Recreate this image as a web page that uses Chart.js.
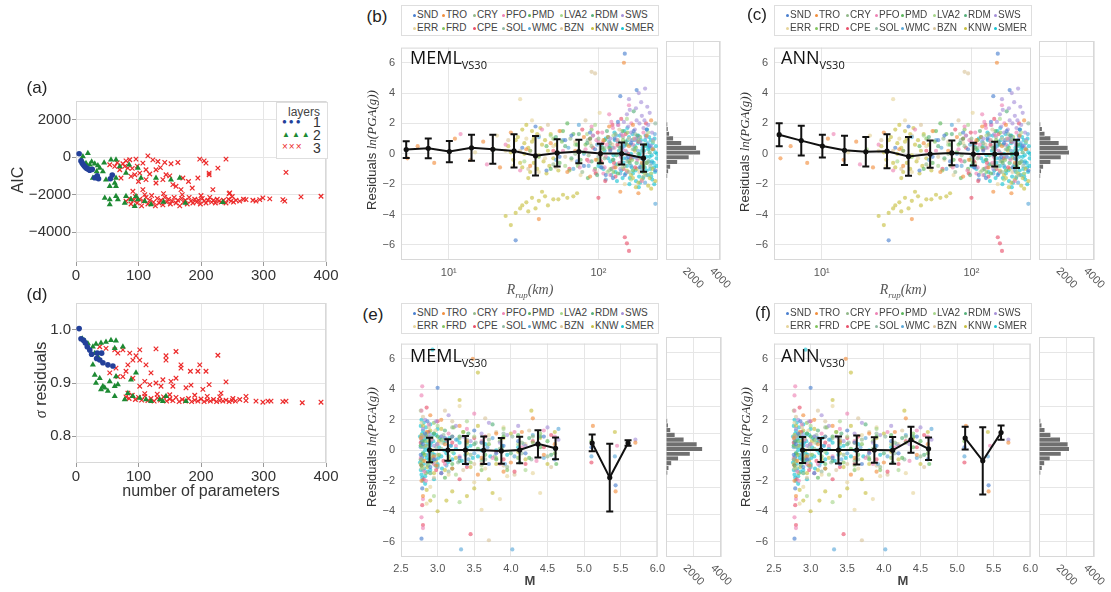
<!DOCTYPE html>
<html>
<head>
<meta charset="utf-8">
<script src="https://cdn.jsdelivr.net/npm/chart.js@4.4.0/dist/chart.umd.min.js"></script>
<style>
body { margin:0; background:#fff; width:1111px; height:592px; position:relative; overflow:hidden; font-family:"Liberation Sans",Arial,sans-serif; color:#333; }
canvas { position:absolute; }
.t { position:absolute; white-space:nowrap; transform:translate(-50%,-50%); }
.rot { transform:translate(-50%,-50%) rotate(-90deg); }
.plab { font-size:17px; color:#222; }
.math { font-family:"Liberation Serif","DejaVu Serif",serif; font-style:italic; }
.model { position:absolute; font-family:"Open Sans",sans-serif; font-size:18px; color:#111; white-space:nowrap; }
.model sub { font-size:11px; }
.leg { position:absolute; border:1px solid #dedede; background:#fff; width:256px; height:29px; font-size:10px; color:#444; }
.leg span { position:absolute; white-space:nowrap; }
.dot { display:inline-block; width:3px; height:3px; border-radius:50%; margin-right:1px; vertical-align:middle; }
.lay { position:absolute; left:276px; top:102px; width:50px; height:55px; border:1px solid #dedede; background:#fff; }
.lay div { position:absolute; white-space:nowrap; }
</style>
</head>
<body>
<canvas id="cA" width="340" height="195" style="left:0;top:90px"></canvas>
<canvas id="cD" width="340" height="195" style="left:0;top:290px"></canvas>
<canvas id="cB" width="330" height="250" style="left:340px;top:35px"></canvas>
<canvas id="hB" width="76" height="270" style="left:660px;top:35px"></canvas>
<canvas id="cC" width="330" height="250" style="left:713px;top:35px"></canvas>
<canvas id="hC" width="78" height="270" style="left:1033px;top:35px"></canvas>
<canvas id="cE" width="330" height="245" style="left:340px;top:331px"></canvas>
<canvas id="hE" width="76" height="261" style="left:660px;top:331px"></canvas>
<canvas id="cF" width="330" height="245" style="left:713px;top:331px"></canvas>
<canvas id="hF" width="78" height="261" style="left:1033px;top:331px"></canvas>

<div class="t plab" style="left:37px;top:88px">(a)</div>
<div class="t plab" style="left:37px;top:295px">(d)</div>
<div class="t plab" style="left:377px;top:17px">(b)</div>
<div class="t plab" style="left:757px;top:15px">(c)</div>
<div class="t plab" style="left:373px;top:315px">(e)</div>
<div class="t plab" style="left:763px;top:313px">(f)</div>

<div class="t rot" style="left:18px;top:180px;font-size:16px">AIC</div>
<div class="t rot" style="left:41px;top:380px;font-size:16px"><span class="math">σ</span> residuals</div>
<div class="t" style="left:201px;top:491px;font-size:16px">number of parameters</div>

<div class="t rot" style="left:372px;top:150px;font-size:13px">Residuals <span class="math">ln(PGA(g))</span></div>
<div class="t rot" style="left:745px;top:152px;font-size:13px">Residuals <span class="math">ln(PGA(g))</span></div>
<div class="t rot" style="left:372px;top:447px;font-size:13px">Residuals <span class="math">ln(PGA(g))</span></div>
<div class="t rot" style="left:746px;top:447px;font-size:13px">Residuals <span class="math">ln(PGA(g))</span></div>

<div class="t math" style="left:530px;top:291px;font-size:14px;color:#555">R<sub style="font-size:9px">rup</sub>(km)</div>
<div class="t math" style="left:903px;top:291px;font-size:14px;color:#555">R<sub style="font-size:9px">rup</sub>(km)</div>
<div class="t" style="left:530px;top:580px;font-size:13px;font-weight:bold;color:#444">M</div>
<div class="t" style="left:903px;top:580px;font-size:13px;font-weight:bold;color:#444">M</div>

<div class="model" style="left:410px;top:45px">MEML<sub>VS30</sub></div>
<div class="model" style="left:781px;top:45px">ANN<sub>VS30</sub></div>
<div class="model" style="left:410px;top:343px">MEML<sub>VS30</sub></div>
<div class="model" style="left:781px;top:343px">ANN<sub>VS30</sub></div>

<div class="lay">
  <div style="left:11px;top:2px;font-size:12px;color:#444">layers</div>
  <div style="left:5px;top:14px;font-size:8px;color:#23409a;letter-spacing:2px">●●●</div>
  <div style="left:36px;top:11px;font-size:14px">1</div>
  <div style="left:5px;top:27px;font-size:8px;color:#1d8a33;letter-spacing:2px">▲▲▲</div>
  <div style="left:36px;top:24px;font-size:14px">2</div>
  <div style="left:5px;top:38px;font-size:10px;color:#ec2a2a;letter-spacing:1px">×××</div>
  <div style="left:36px;top:37px;font-size:14px">3</div>
</div>

<script>
// ---- panel (a)/(d): model selection ----
const paramTicks = [0, 100, 200, 300, 400];
const aicTicks = [-4000, -2000, 0, 2000];
const sigmaTicks = [0.8, 0.9, 1.0];

const aicLayer1 = [[5,180],[8,-200],[10,-320],[12,-420],[14,-500],[16,-560],[18,-620],[20,-640],[22,-700],[26,-650],[30,-1100],[34,-1000],[36,-1150],[55,-1150],[58,-950]];
const aicLayer2 = [[11,35],[19,212],[9,-140],[16,-320],[22,-407],[30,-354],[38,-584],[43,-760],[27,-1115],[33,-760],[48,-1200],[54,-1557],[62,-1380],[64,-1115],[56,-140],[64,-140],[80,-850],[99,-584],[104,-1115],[128,-1115],[152,-1200],[166,-1115],[46,-2177],[54,-2265],[54,-2530],[64,-2088],[67,-2265],[78,-2442],[80,-2088],[88,-2265],[96,-2088],[99,-2265],[120,-2530],[235,-2407],[94,-2620],[64,-1557],[25,-250],[35,-450],[45,-300],[70,-500],[85,-400],[110,-2350],[140,-2400],[175,-2450]];
const aicLayer3 = [[54,-407],[62,-495],[66,-300],[70,-672],[72,-1115],[75,-350],[78,-495],[80,-200],[83,-584],[86,-140],[88,-1027],[90,-600],[91,-1823],[94,-940],[96,-106],[98,-480],[100,-1300],[102,-850],[107,-320],[107,-1734],[112,-672],[112,-1200],[115,70],[118,-900],[123,-142],[128,-672],[128,-1380],[131,-230],[135,-560],[139,-1200],[142,-283],[144,-940],[150,-1000],[152,-354],[155,-1469],[160,-1557],[163,-283],[168,-1734],[171,-1115],[180,-1300],[186,-1650],[195,-1115],[198,-106],[205,-200],[208,-320],[213,-940],[213,-850],[219,-1734],[227,-584],[240,-106],[246,-1911],[336,-814],
  [80,-2350],[85,-2200],[88,-2500],[92,-2300],[95,-2100],[98,-2450],[102,-2250],[105,-2600],[108,-2350],[112,-2150],[115,-2500],[118,-2300],[121,-2050],[124,-2400],[127,-2600],[130,-2200],[133,-2450],[136,-2300],[139,-2550],[142,-2150],[145,-2400],[148,-2250],[151,-2500],[154,-2350],[157,-2150],[160,-2450],[163,-2300],[166,-2600],[169,-2200],[172,-2400],[175,-2300],[178,-2500],[181,-2150],[184,-2350],[187,-2450],[190,-2250],[193,-2400],[196,-2300],[199,-2500],[202,-2200],[205,-2350],[208,-2450],[211,-2300],[214,-2150],[217,-2400],[220,-2300],[223,-2450],[226,-2250],[229,-2350],[232,-2400],[236,-2300],[240,-2450],[244,-2250],[248,-2350],[252,-2400],[256,-2300],[262,-2350],[268,-2250],[272,-2265],[283,-2300],[288,-2350],[294,-2265],[299,-2177],[310,-2230],[331,-2265],[334,-2350],[360,-2124],[392,-2088],[110,-2000],[140,-1950],[170,-2000],[200,-2050],[245,-1950],[250,-2100]];

const sigLayer1 = [[5,1.002],[8,0.983],[12,0.980],[15,0.975],[18,0.968],[22,0.962],[25,0.954],[33,0.946],[34,0.956],[38,0.943],[41,0.956],[43,0.938],[51,0.934],[59,0.932]];
const sigLayer2 = [[10,0.983],[14,0.979],[19,0.974],[27,0.968],[32,0.973],[40,0.975],[48,0.977],[56,0.980],[64,0.979],[75,0.968],[62,0.965],[30,0.956],[35,0.949],[27,0.934],[30,0.915],[32,0.900],[40,0.888],[46,0.891],[51,0.885],[62,0.894],[54,0.903],[67,0.897],[64,0.912],[88,0.906],[96,0.919],[83,0.881],[91,0.875],[102,0.872],[112,0.869],[120,0.866],[134,0.869],[144,0.875],[176,0.866],[139,0.866],[43,0.894],[38,0.909],[62,0.875],[78,0.869]];
const sigLayer3 = [[38,0.968],[48,0.965],[62,0.962],[67,0.956],[75,0.962],[86,0.956],[96,0.951],[102,0.962],[128,0.964],[144,0.951],[144,0.943],[160,0.959],[168,0.934],[168,0.928],[183,0.922],[195,0.922],[198,0.934],[208,0.922],[227,0.952],[240,0.902],[184,0.896],[213,0.897],[160,0.909],[152,0.903],[139,0.906],[128,0.900],[118,0.897],[110,0.903],[120,0.919],[112,0.934],[102,0.943],[91,0.943],[83,0.934],[75,0.912],[64,0.928],[54,0.919],[67,0.912],[80,0.922],[91,0.909],[102,0.894],[136,0.894],[155,0.894],[176,0.891],[203,0.888],[232,0.881],[83,0.881],
  [80,0.874],[85,0.871],[90,0.877],[95,0.869],[100,0.873],[105,0.868],[110,0.875],[115,0.867],[120,0.871],[125,0.866],[130,0.872],[135,0.868],[140,0.874],[145,0.866],[150,0.870],[155,0.867],[160,0.873],[165,0.865],[170,0.869],[175,0.866],[180,0.871],[185,0.865],[190,0.868],[195,0.866],[200,0.870],[205,0.865],[210,0.868],[215,0.866],[220,0.869],[225,0.865],[230,0.867],[235,0.866],[240,0.868],[245,0.865],[250,0.867],[255,0.866],[262,0.869],[272,0.867],[288,0.866],[299,0.864],[307,0.866],[312,0.866],[331,0.865],[336,0.866],[362,0.863],[392,0.864],[251,0.871],[272,0.875],[110,0.880],[130,0.879],[150,0.878],[190,0.877],[210,0.875],[230,0.874]];

// ---- panels (b)(c)(e)(f): residuals ----
const stations = ['SND','TRO','CRY','PFO','PMD','LVA2','RDM','SWS','ERR','FRD','CPE','SOL','WMC','BZN','KNW','SMER'];
const stationColors = ['#4a7fcf','#f28e3c','#93b98a','#ee82b4','#5cb85c','#a6d68a','#55b07a','#a58fd8','#e6d49a','#82c45e','#e8506a','#8fb8a0','#5aa8d8','#d8c49a','#c8c040','#17c3d2'];
const residTicks = [-6, -4, -2, 0, 2, 4, 6];
const rupTicks = [10, 100];
const rupTickText = ['10¹', '10²'];
const magTicks = [2.5, 3.0, 3.5, 4.0, 4.5, 5.0, 5.5, 6.0];
const histTicks = [0, 2000, 4000];
const histLabelVals = [2000, 4000];
const histTickText = ['2000', '4000'];

const rupBins = [5.2, 7.3, 10.1, 14.2, 19.7, 27.3, 38, 53, 74, 103, 143, 200];
const memlRupMean = [0.28, 0.36, 0.15, 0.40, 0.30, 0.19, -0.13, 0.06, 0.15, 0.02, 0.02, -0.28];
const memlRupStd = [0.55, 0.65, 0.70, 0.86, 0.95, 1.10, 1.30, 0.90, 0.78, 0.65, 0.73, 0.90];
const annRupMean = [1.26, 0.87, 0.51, 0.23, 0.13, 0.17, -0.17, -0.02, 0.06, -0.02, -0.02, 0.0];
const annRupStd = [0.76, 0.98, 0.75, 0.96, 0.97, 1.12, 1.28, 0.90, 0.81, 0.75, 0.81, 0.93];

const magBins = [2.89, 3.14, 3.38, 3.63, 3.87, 4.12, 4.37, 4.61, 4.86, 5.11, 5.35, 5.6];
const memlMagMean = [0.02, 0.02, 0.02, 0.0, -0.04, 0.02, 0.42, 0.13, null, 0.48, -1.79, 0.48];
const memlMagStd = [0.81, 0.70, 0.92, 0.90, 0.84, 0.87, 0.90, 0.71, null, 0.55, 2.22, 0.18];
const annMagMean = [0.02, 0.02, 0.02, 0.02, 0.02, 0.0, 0.69, 0.10, null, 0.80, -0.69, 1.16];
const annMagStd = [0.85, 0.78, 0.89, 0.95, 0.83, 0.88, 0.85, 0.74, null, 0.74, 2.21, 0.47];

const residBins = [-1.9, -1.55, -1.2, -0.85, -0.5, -0.15, 0.2, 0.55, 0.9, 1.25, 1.6, 1.95];
const memlRupHist = [100, 180, 330, 850, 1700, 2550, 2250, 1150, 550, 250, 150, 110];
const annRupHist = [100, 170, 320, 850, 1600, 2200, 2100, 1450, 850, 420, 230, 110];
const memlMagHist = [110, 200, 400, 900, 1750, 2650, 2250, 1300, 650, 330, 160, 100];
const annMagHist = [110, 220, 400, 800, 1600, 2200, 2100, 1550, 850, 420, 200, 110];

// residual vs rupture distance, by station
const rupSND = [[31,0.4],[45,-1.1],[60,0.9],[72,-0.5],[88,1.4],[105,-0.9],[120,0.2],[135,2.1],[150,-1.4],[165,0.7],[180,4.2],[195,-0.3],[210,1.6],[28,-5.7],[38,1.8],[140,3.8],[125,-1.6],[55,-0.2],[150,6.6],
  [66,1.2],[80,-0.8],[95,0.3],[112,-1.4],[128,1.0],[158,-0.2],[172,1.5],[188,-0.9],[220,0.5],[240,-1.1]];
const rupTRO = [[5.3,-0.3],[6.2,0.5],[8,-0.6],[11,1.0],[14,-0.4],[17,0.8],[22,-0.9],[26,1.4],[33,0.3],[40,-4.3],[48,0.7],[62,-1.2],[80,1.1],[96,-0.4],[118,1.8],[140,-2.5],[160,0.5],[185,-2.6],[210,1.2],[148,6.0],[230,0.3],
  [35,-0.8],[55,1.5],[70,0.2],[88,-1.5],[108,0.9],[130,-0.9],[170,1.9],[195,-0.6],[225,2.2]];
const rupCRY = [[35,0.2],[50,-0.7],[65,1.0],[78,-1.2],[90,0.5],[110,-0.3],[130,1.3],[150,-0.8],[170,0.3],[200,-1.5],[86,-0.1],[120,0.7],
  [70,0.0],[100,1.0],[140,0.3],[160,-1.2],[185,0.9],[215,-0.5]];
const rupPFO = [[12,1.3],[18,-0.7],[24,0.6],[30,-1.1],[42,1.6],[58,0.2],[75,-0.9],[92,1.2],[108,-1.3],[118,2.6],[128,0.4],[138,-0.6],[160,3.2],[175,1.0],[195,-1.8],[100,0.8],[112,-0.2],[125,1.7],
  [82,0.3],[86,-0.5],[90,1.8],[94,-1.1],[97,0.9],[103,-0.1],[106,1.4],[110,-0.9],[114,0.6],[120,-1.4],[122,2.1],[126,-0.9],[133,0.9],[136,1.9],[141,-0.2],[145,1.2],[152,0.2],[155,-1.2],[166,2.0],[170,0.6],[182,-0.4],[200,1.4]];
const rupPMD = [[45,0.5],[55,-0.6],[68,1.3],[80,0.1],[95,-1.0],[110,0.9],[125,-0.4],[145,1.5],[170,-1.1],[205,0.6],[62,2.0],[85,-1.6],
  [48,-1.0],[58,1.5],[72,0.6],[76,-0.4],[88,1.0],[102,-0.6],[118,0.4],[135,-1.3],[155,0.6],[185,0.0]];
const rupLVA2 = [[20,0.3],[32,-0.5],[48,1.2],[70,0.6],[95,1.9],[115,-1.2],[135,0.9],[155,2.3],[180,-0.6],[215,1.4],[165,-1.7],
  [60,-0.8],[84,1.3],[104,-0.1],[126,1.2],[145,-0.9],[172,1.0],[200,-1.2],[232,0.8]];
const rupRDM = [[52,1.1],[66,-0.3],[84,0.7],[98,-1.4],[114,1.5],[132,-0.1],[152,0.8],[172,2.8],[192,-0.9],[220,0.1],
  [60,0.5],[74,1.3],[90,-0.5],[106,0.4],[122,-1.0],[140,0.4],[162,-0.6],[182,1.2],[210,-0.6]];
const rupSWS = [[120,1.0],[135,1.9],[145,0.3],[155,2.6],[165,1.4],[172,-0.2],[180,2.2],[190,0.8],[200,1.7],[212,3.1],[225,0.5],[160,3.6],[195,2.5],[140,-1.0],
  [142,1.3],[148,2.1],[152,0.7],[158,1.8],[162,2.9],[168,0.9],[175,1.6],[178,3.0],[184,1.1],[188,2.0],[193,3.4],[198,0.6],[203,2.2],[208,1.1],[215,1.9],[220,2.7],[228,1.4],[232,0.9],[186,4.0],[205,4.3]];
const rupERR = [[15,0.1],[21,1.2],[27,-0.8],[36,2.2],[44,-0.3],[56,1.5],[76,-1.4],[102,2.7],[150,-2.0],[30,3.6],
  [24,0.2],[33,1.0],[40,-1.2],[50,0.5],[66,-0.4],[88,0.7],[120,-1.0]];
const rupFRD = [[40,-0.2],[57,0.8],[73,-0.8],[90,1.6],[108,0.3],[126,-1.2],[146,0.9],[168,-0.4],[190,1.1],[225,-1.3],
  [50,1.0],[64,-1.1],[82,0.6],[98,-0.4],[116,1.1],[136,-0.7],[156,1.4],[178,0.4],[200,-0.8]];
const rupCPE = [[50,0.2],[64,-1.0],[78,1.6],[92,0.4],[104,-0.5],[116,1.1],[130,-1.5],[142,2.3],[158,0.0],[176,-0.9],[100,-2.9],[150,-5.5],[155,-5.9],[160,-6.4],[208,2.0],
  [84,-0.4],[88,1.0],[96,-1.3],[99,1.4],[107,0.7],[111,-1.8],[120,0.3],[124,1.9],[127,-0.6],[134,0.6],[147,-1.0],[152,1.3],[165,-0.3],[185,0.8]];
const rupSOL = [[85,0.9],[100,-0.2],[118,-1.1],[136,0.5],[156,-0.5],[176,1.3],[198,0.2],[222,-0.8],[240,2.0],
  [110,0.4],[128,-0.9],[146,1.1],[166,-0.2],[188,0.8],[210,-1.4],[232,0.3]];
const rupWMC = [[40,1.1],[52,-0.4],[63,0.4],[74,1.9],[86,-0.8],[98,0.6],[112,-1.7],[132,1.2],[154,-0.3],[176,0.9],[205,-1.9],[238,1.3],[240,-3.3],
  [58,0.9],[68,-1.0],[80,0.0],[92,1.2],[104,-0.9],[118,0.8],[126,-0.4],[140,-1.3],[148,0.5],[165,-0.8],[184,0.2],[196,-1.1],[214,0.7],[226,-0.6]];
const rupBZN = [[25,0.9],[34,-1.0],[46,1.9],[60,-0.2],[82,2.2],[106,-0.6],[138,1.6],[188,-1.2],[90,5.4],[95,5.3],
  [30,0.2],[40,1.2],[52,-0.9],[70,0.8],[96,-1.2],[124,0.6],[160,1.0]];
const rupKNW = [[25,0.5],[27,-0.4],[29,1.1],[31,-0.9],[33,1.9],[35,0.2],[37,-0.6],[39,1.3],[42,0.6],[45,-1.3],[30,-3.6],[33,-3.2],[36,-2.9],[38,-3.6],[42,-2.5],[50,-3.0],[58,-2.7],[68,-2.8],[24,-4.1],[26,-4.7],[165,-1.4],[185,-1.9],[200,-0.9],[215,-2.1],[175,0.2],[32,0.0],[40,-0.1],[36,1.5],[34,-1.6],
  [26,0.1],[28,0.9],[30,-0.6],[31,1.6],[32,0.7],[34,0.4],[35,-1.2],[36,0.8],[37,1.0],[38,-0.2],[39,-1.0],[41,1.7],[43,-0.5],[44,0.9],[46,0.2],[47,-0.8],[48,1.3],[50,-0.3],[52,0.6],[54,-1.1],[28,-3.9],[31,-3.4],[34,-3.8],[40,-3.1],[44,-2.8],[46,-3.4],[54,-3.0],[62,-2.9],[72,-2.6],[155,-1.1],[160,-0.5],[170,-1.6],[180,-1.0],[190,-0.3],[195,-1.7],[205,-1.3],[210,-0.6],[220,-1.6],[230,-1.0],[240,-1.8],[178,-2.2],[225,-2.3]];
const rupSMER = [[120,-0.5],[125,0.4],[130,-1.2],[135,0.8],[140,-0.1],[145,-1.6],[150,0.6],[155,-0.8],[160,1.1],[165,0.0],[170,-1.3],[175,0.5],[180,-0.6],[185,1.2],[190,-1.9],[195,0.2],[200,-0.4],[205,0.9],[210,-1.1],[215,0.3],[220,-0.2],[225,-1.5],[230,0.7],[235,-0.9],[240,0.1],[128,1.4],[148,-0.3],[168,0.9],[188,-0.1],[208,0.5],[228,-0.5],[178,-1.8],[198,-1.2],[218,1.1],[110,0.2],[100,-0.8],[245,-0.3],
  [105,0.6],[108,-1.0],[112,1.0],[116,-0.3],[119,0.5],[122,-1.4],[126,-0.1],[129,0.9],[132,-0.7],[137,0.2],[139,1.2],[142,-1.1],[144,0.4],[147,-0.6],[149,1.5],[152,-1.3],[154,0.1],[157,0.9],[159,-0.4],[162,-1.6],[164,0.6],[167,-0.9],[169,1.3],[172,-0.2],[174,0.3],[177,-1.1],[179,1.0],[182,-0.3],[184,0.7],[187,-1.5],[189,0.0],[192,0.9],[194,-0.7],[197,0.4],[199,-1.6],[202,0.2],[204,-0.9],[207,1.2],[209,-0.2],[212,0.6],[214,-1.4],[217,-0.5],[219,0.4],[222,-1.0],[224,0.9],[227,-0.1],[229,-1.7],[232,0.3],[234,-0.6],[237,1.0],[239,-1.2],[242,0.5],[244,-0.8],[246,0.0],[133,-1.8],[161,-2.0],[186,-2.2],[211,1.6],[236,-2.0],[156,1.7]];

// residual vs magnitude, by station
const magSND = [[2.8,0.4],[2.9,-1.1],[3.0,4.1],[3.1,0.8],[3.3,-0.5],[3.5,1.3],[3.7,-0.9],[3.9,0.3],[4.2,-0.2],[4.45,0.9],[5.1,0.2],[5.43,-2.3],[2.78,-5.8],[2.86,1.9],
  [2.77,-0.3],[2.83,1.1],[2.95,-0.6],[3.05,-1.5],[3.2,0.9],[3.4,-0.9],[3.6,0.5],[3.8,-0.2],[4.1,0.6],[4.6,-0.6],[2.79,-2.5]];
const magTRO = [[2.78,-2.0],[2.85,1.2],[2.95,-0.4],[3.05,2.0],[3.2,-1.2],[3.4,0.6],[3.55,-1.6],[3.8,1.1],[4.0,-0.8],[4.3,2.1],[4.6,0.4],[5.12,1.6],[5.43,-2.7],[3.48,6.0],[5.7,0.5],
  [2.77,0.8],[2.82,-0.7],[2.9,2.3],[2.98,-1.0],[3.1,0.4],[3.3,1.6],[3.6,-0.5],[3.9,-1.4],[4.15,1.2],[4.45,-0.3],[2.8,-3.0]];
const magCRY = [[2.8,0.9],[2.9,-0.6],[3.05,0.1],[3.2,1.5],[3.45,-0.3],[3.7,0.7],[3.95,-1.1],[4.15,0.5],[4.5,-0.4],
  [2.78,-0.6],[2.86,0.3],[3.0,-1.0],[3.3,0.8],[3.6,-0.7],[3.85,0.1],[4.3,0.9]];
const magPFO = [[2.78,3.6],[2.82,-1.4],[2.92,0.7],[3.1,-0.9],[3.25,0.3],[3.5,2.4],[3.75,-0.5],[4.05,1.2],[4.35,-0.7],[4.6,0.9],[5.45,0.3],[2.78,-4.4],[2.8,-5.1],[2.79,4.2],
  [2.77,-0.5],[2.8,0.9],[2.84,-2.0],[2.88,1.7],[2.95,-0.9],[3.0,0.4],[3.05,-1.5],[3.15,1.1],[3.3,-0.4],[3.4,1.4],[3.6,0.6],[3.85,-0.9],[4.15,0.2],[4.45,1.3],[2.78,2.6],[2.8,-3.2]];
const magPMD = [[2.8,-0.2],[2.95,1.1],[3.1,-1.8],[3.3,0.9],[3.55,0.1],[3.8,-0.6],[4.1,1.0],[4.4,0.2],[4.62,-0.9],
  [2.78,-1.0],[2.83,0.6],[2.9,-0.6],[3.0,0.9],[3.2,-0.9],[3.4,0.5],[3.65,-0.3],[3.9,0.9],[4.25,-0.5],[4.5,0.6]];
const magLVA2 = [[2.77,2.6],[2.88,-0.9],[3.0,1.6],[3.2,-0.1],[3.4,1.9],[3.6,-1.0],[3.9,1.4],[4.2,-1.3],[3.3,-3.4],[2.95,-3.0],
  [2.79,-1.2],[2.85,1.1],[2.92,-0.4],[3.08,0.7],[3.25,-1.6],[3.5,0.9],[3.8,-0.5],[4.1,0.4]];
const magRDM = [[2.79,0.6],[2.9,-1.5],[3.1,1.3],[3.3,-0.7],[3.5,0.4],[3.75,1.7],[4.0,-0.2],[4.25,0.8],[4.55,-0.3],
  [2.77,-0.6],[2.84,1.0],[2.93,-0.8],[3.05,0.7],[3.2,-1.2],[3.42,1.1],[3.62,-0.6],[3.88,0.2],[4.12,-0.8],[4.4,0.9]];
const magSWS = [[2.8,1.4],[2.95,0.3],[3.15,2.3],[3.35,0.9],[3.6,1.1],[3.85,0.5],[4.1,1.6],[4.35,0.4],[4.65,0.7],[5.7,0.7],
  [2.78,0.7],[2.83,2.0],[2.88,1.0],[2.98,1.9],[3.05,0.9],[3.25,1.6],[3.45,0.6],[3.7,1.8],[3.95,1.0],[4.2,0.3],[4.5,1.5]];
const magERR = [[2.78,1.8],[2.9,-2.4],[3.05,0.5],[3.3,2.9],[3.5,-2.1],[3.7,1.0],[3.95,-1.7],[4.2,0.4],[3.6,-3.9],[3.85,-3.2],[4.4,-2.8],
  [2.8,-1.1],[2.86,0.9],[2.97,1.3],[3.15,-1.6],[3.4,0.4],[3.65,-1.2],[3.9,1.5],[4.3,-1.5],[2.85,-3.5]];
const magFRD = [[2.8,-0.7],[2.95,1.8],[3.15,-0.4],[3.35,1.2],[3.6,-1.3],[3.85,0.6],[4.1,-0.5],[4.4,1.1],[4.6,-0.2],[5.1,0.6],
  [2.77,0.3],[2.84,-1.5],[2.92,0.8],[3.02,-0.3],[3.22,1.5],[3.45,-0.8],[3.7,0.4],[3.95,-1.3],[4.3,0.5]];
const magCPE = [[2.78,-1.0],[2.85,2.8],[2.98,-1.3],[3.12,0.7],[3.3,-1.9],[3.5,0.8],[3.8,-0.1],[4.05,-1.4],[4.3,0.6],[4.55,1.0],[5.1,-0.8],[3.45,-5.5],[2.8,-4.9],[3.6,-0.9],
  [2.77,0.5],[2.81,-1.9],[2.87,1.2],[2.93,-0.5],[3.0,1.9],[3.08,-0.7],[3.2,0.5],[3.4,-1.1],[3.65,0.9],[3.9,-0.6],[4.2,-0.9],[4.45,0.2],[2.79,-3.6]];
const magSOL = [[2.8,0.2],[2.92,-0.3],[3.08,1.0],[3.28,-0.8],[3.52,0.5],[3.78,-0.4],[4.02,0.9],[4.28,-0.6],
  [2.78,0.9],[2.86,-0.9],[2.98,0.2],[3.15,-1.4],[3.4,0.7],[3.65,-0.6],[3.9,1.1],[4.15,-0.2]];
const magWMC = [[2.79,-0.5],[2.9,0.5],[3.0,-1.1],[3.18,0.3],[3.42,-0.6],[3.68,0.2],[3.92,-0.9],[4.18,0.4],[4.45,-0.5],[4.65,1.4],[5.1,-0.4],[5.42,-0.4],[3.32,-6.5],[4.02,-6.5],
  [2.77,0.2],[2.8,-1.3],[2.84,0.9],[2.88,-0.3],[2.93,1.0],[2.97,-0.6],[3.05,0.9],[3.12,-1.0],[3.25,0.7],[3.5,-0.2],[3.75,0.8],[4.05,-0.4],[4.3,1.0],[4.6,0.1]];
const magBZN = [[2.8,2.2],[2.95,-1.8],[3.1,2.6],[3.35,-1.3],[3.65,2.1],[3.9,-1.0],[4.25,1.3],[4.55,-1.1],[3.7,-5.9],
  [2.78,-1.2],[2.88,1.5],[3.0,-0.3],[3.2,1.9],[3.5,-0.9],[3.8,1.2],[4.05,-1.6]];
const magKNW = [[2.78,1.0],[2.82,-0.3],[2.88,0.6],[2.95,-1.5],[3.05,1.4],[3.15,-0.6],[3.3,3.3],[3.4,-0.2],[3.55,1.6],[3.7,-1.9],[3.9,0.8],[4.1,-0.1],[4.28,2.6],[4.5,-0.9],[4.6,1.2],[5.42,1.2],[2.9,-3.3],[3.2,-2.7],[3.5,-2.5],[3.0,-4.0],[3.55,5.1],
  [2.77,-0.9],[2.8,1.6],[2.83,0.3],[2.86,-1.1],[2.9,1.3],[2.93,0.0],[2.98,-0.7],[3.02,0.6],[3.1,-1.3],[3.2,0.9],[3.25,-0.5],[3.35,1.2],[3.45,-1.1],[3.6,0.5],[3.8,-0.9],[4.0,1.1],[4.2,-0.6],[4.4,0.8],[2.85,-2.6],[3.12,-3.3],[3.4,-3.0],[3.75,-2.8]];
const magSMER = [[2.76,-0.8],[2.77,0.3],[2.78,-1.6],[2.79,1.1],[2.8,-0.2],[2.81,0.7],[2.82,-1.2],[2.83,0.0],[2.84,1.5],[2.85,-0.5],[2.86,0.4],[2.87,-1.0],[2.88,0.9],[2.89,-0.1],[2.9,0.3],[2.92,-0.7],[2.94,0.6],[2.96,-0.3],[2.98,1.0],[3.0,-0.9],[3.02,0.2],[3.05,-0.4],[3.08,0.5],[3.12,-0.2],[3.16,0.8],[3.2,-0.6],[3.25,0.1],[3.3,0.5],[3.38,-0.3],[3.45,0.3],[3.55,-0.4],[3.65,0.4],[3.8,0.0],[3.95,-0.3],[4.1,0.2],[2.78,2.0],[2.8,-2.0],[2.9,1.7],[2.95,-1.9],[2.93,6.6],
  [2.76,0.9],[2.77,-1.3],[2.78,0.5],[2.79,-0.4],[2.8,1.3],[2.81,-0.9],[2.82,0.2],[2.83,-1.7],[2.84,-0.3],[2.85,0.8],[2.86,-1.4],[2.87,0.1],[2.88,-0.6],[2.89,1.2],[2.9,-1.3],[2.91,0.5],[2.93,-0.2],[2.95,1.1],[2.97,-1.0],[2.99,0.4],[3.01,-0.5],[3.03,0.8],[3.06,-1.2],[3.09,0.0],[3.11,0.6],[3.14,-0.8],[3.18,0.3],[3.22,-0.2],[3.27,0.7],[3.33,-0.7],[3.4,0.2],[3.48,-0.5],[3.6,0.0],[3.72,-0.4],[3.88,0.3],[2.77,1.6],[2.79,-1.8],[2.81,1.8],[2.83,-2.2],[3.0,1.4]];

const rupCloud = [rupSND, rupTRO, rupCRY, rupPFO, rupPMD, rupLVA2, rupRDM, rupSWS, rupERR, rupFRD, rupCPE, rupSOL, rupWMC, rupBZN, rupKNW, rupSMER];
const magCloud = [magSND, magTRO, magCRY, magPFO, magPMD, magLVA2, magRDM, magSWS, magERR, magFRD, magCPE, magSOL, magWMC, magBZN, magKNW, magSMER];

const GRID = '#e6e6e6';
const toPts = arr => arr.map(p => ({ x: p[0], y: p[1] }));
const fixTicks = vals => axis => { axis.ticks = vals.map(v => ({ value: v })); };
const minus = v => (v < 0 ? '\u2212' + Math.abs(v) : String(v));

// light grey box around each plotting area
const frame = {
  id: 'frame',
  beforeDatasetsDraw(c) {
    const a = c.chartArea, g = c.ctx;
    g.save();
    g.strokeStyle = '#d8d8d8';
    g.lineWidth = 1;
    g.strokeRect(a.left + 0.5, a.top + 0.5, a.width - 1, a.height - 1);
    g.restore();
  }
};

// mean +/- std error bars
const errBars = {
  id: 'errBars',
  afterDatasetsDraw(c, args, o) {
    const g = c.ctx, xs = c.scales.x, ys = c.scales.y;
    g.save();
    g.strokeStyle = '#111';
    g.lineWidth = 2;
    o.bins.forEach((b, i) => {
      if (o.means[i] === null) return;
      const x = xs.getPixelForValue(b);
      const y1 = ys.getPixelForValue(o.means[i] + o.stds[i]);
      const y2 = ys.getPixelForValue(o.means[i] - o.stds[i]);
      g.beginPath();
      g.moveTo(x, y1); g.lineTo(x, y2);
      g.moveTo(x - 3.5, y1); g.lineTo(x + 3.5, y1);
      g.moveTo(x - 3.5, y2); g.lineTo(x + 3.5, y2);
      g.stroke();
    });
    g.restore();
  }
};

// slanted count labels under the histograms
const histLabels = {
  id: 'histLabels',
  afterDraw(c) {
    const g = c.ctx, xs = c.scales.x, a = c.chartArea;
    g.save();
    g.font = '11px "Liberation Sans"';
    g.fillStyle = '#555';
    g.textAlign = 'center';
    g.textBaseline = 'middle';
    histLabelVals.forEach((v, i) => {
      g.save();
      g.translate(xs.getPixelForValue(v), a.bottom + 18);
      g.rotate(Math.PI / 4);
      g.fillText(histTickText[i], 0, 0);
      g.restore();
    });
    g.restore();
  }
};

Chart.defaults.font.family = '"Liberation Sans", Arial, sans-serif';
Chart.defaults.animation = false;

function leftPanel(id, layers, yMin, yMax, yTicks, yFmt, xHeight, padTop) {
  const styles = [
    { pointStyle: 'circle', pointRadius: 2.8, backgroundColor: '#23409a', borderWidth: 0 },
    { pointStyle: 'triangle', pointRadius: 3.5, backgroundColor: '#1d8a33', borderWidth: 0 },
    { pointStyle: 'crossRot', pointRadius: 3.2, borderColor: '#ec2a2a', borderWidth: 1.2 }
  ];
  new Chart(document.getElementById(id), {
    type: 'scatter',
    data: { datasets: layers.map((l, i) => Object.assign({ data: toPts(l) }, styles[i])) },
    options: {
      responsive: false,
      layout: { padding: { top: padTop, right: 14, left: 0, bottom: 0 } },
      plugins: { legend: { display: false }, tooltip: { enabled: false } },
      scales: {
        x: {
          min: 0, max: 400,
          afterBuildTicks: fixTicks(paramTicks),
          ticks: { color: '#333', font: { size: 15 }, padding: 1, maxRotation: 0 },
          grid: { color: GRID, tickLength: 4, tickColor: '#999' },
          border: { display: false },
          afterFit: s => { s.height = xHeight; }
        },
        y: {
          min: yMin, max: yMax,
          afterBuildTicks: fixTicks(yTicks),
          ticks: { color: '#333', font: { size: 15 }, padding: 1, callback: yFmt },
          grid: { color: GRID, tickLength: 4, tickColor: '#999' },
          border: { display: false },
          afterFit: s => { s.width = 76; }
        }
      }
    },
    plugins: [frame]
  });
}

leftPanel('cA', [aicLayer1, aicLayer2, aicLayer3], -5600, 3000, aicTicks, v => minus(v), 23, 11);
leftPanel('cD', [sigLayer1, sigLayer2, sigLayer3], 0.75, 1.05, sigmaTicks, v => v.toFixed(1), 22, 13);

const rupAxis = {
  type: 'logarithmic', min: 4.8, max: 250,
  afterBuildTicks: fixTicks(rupTicks),
  ticks: { color: '#555', font: { size: 11 }, padding: 6, maxRotation: 0, autoSkip: false, callback: (v, i) => rupTickText[i] },
  grid: { color: GRID, drawTicks: false },
  border: { display: false },
  afterFit: s => { s.height = 25; }
};
const magAxis = {
  type: 'linear', min: 2.5, max: 6.0,
  afterBuildTicks: fixTicks(magTicks),
  ticks: { color: '#555', font: { size: 11 }, padding: 5, maxRotation: 0, autoSkip: false, callback: v => v.toFixed(1) },
  grid: { color: GRID, drawTicks: false },
  border: { display: false },
  afterFit: s => { s.height = 19; }
};

function residPanel(id, clouds, bins, means, stds, xAxis) {
  const datasets = [{
    type: 'line',
    data: bins.map((b, i) => ({ x: b, y: means[i] })),
    borderColor: '#111', borderWidth: 2, fill: false, spanGaps: false,
    pointRadius: 2.6, pointBackgroundColor: '#111', pointBorderWidth: 0
  }];
  clouds.forEach((pts, i) => datasets.push({
    data: toPts(pts), pointRadius: 2.1, pointBorderWidth: 0,
    pointBackgroundColor: stationColors[i] + 'a0'
  }));
  new Chart(document.getElementById(id), {
    type: 'scatter',
    data: { datasets },
    options: {
      responsive: false,
      layout: { padding: { top: 6, right: 12, left: 0, bottom: 0 } },
      plugins: { legend: { display: false }, tooltip: { enabled: false }, errBars: { bins, means, stds } },
      scales: {
        x: xAxis,
        y: {
          min: -7, max: 7,
          afterBuildTicks: fixTicks(residTicks),
          ticks: { color: '#555', font: { size: 11 }, padding: 6, callback: v => minus(v) },
          grid: { color: GRID, drawTicks: false },
          border: { display: false },
          afterFit: s => { s.width = 61; }
        }
      }
    },
    plugins: [frame, errBars]
  });
}

function histPanel(id, counts, xHeight, padRight) {
  new Chart(document.getElementById(id), {
    type: 'bar',
    data: {
      datasets: [{
        data: residBins.map((b, i) => ({ x: counts[i], y: b })),
        backgroundColor: '#6f6f6f', borderColor: '#ffffff', borderWidth: 0.6,
        barPercentage: 1, categoryPercentage: 1
      }]
    },
    options: {
      indexAxis: 'y',
      responsive: false,
      layout: { padding: { top: 6, right: padRight, left: 0, bottom: 0 } },
      plugins: { legend: { display: false }, tooltip: { enabled: false } },
      scales: {
        x: {
          type: 'linear', min: 0, max: 4000,
          afterBuildTicks: fixTicks(histTicks),
          ticks: { display: false },
          grid: { color: GRID, drawTicks: false },
          border: { display: false },
          afterFit: s => { s.height = xHeight; }
        },
        y: {
          type: 'linear', min: -7, max: 7,
          afterBuildTicks: fixTicks(residTicks),
          ticks: { display: false },
          grid: { color: GRID, drawTicks: false },
          border: { display: false },
          afterFit: s => { s.width = 6; }
        }
      }
    },
    plugins: [frame, histLabels]
  });
}

residPanel('cB', rupCloud, rupBins, memlRupMean, memlRupStd, rupAxis);
residPanel('cC', rupCloud, rupBins, annRupMean, annRupStd, rupAxis);
residPanel('cE', magCloud, magBins, memlMagMean, memlMagStd, magAxis);
residPanel('cF', magCloud, magBins, annMagMean, annMagStd, magAxis);

histPanel('hB', memlRupHist, 45, 16);
histPanel('hC', annRupHist, 45, 17);
histPanel('hE', memlMagHist, 35, 15);
histPanel('hF', annMagHist, 35, 17);

// station legends above each residual panel
const legCols = [11, 40, 71, 100, 126, 158, 189, 219];
function stationLegend(left, top) {
  const box = document.createElement('div');
  box.className = 'leg';
  box.style.left = left + 'px';
  box.style.top = top + 'px';
  stations.forEach((s, i) => {
    const e = document.createElement('span');
    e.style.left = legCols[i % 8] + 'px';
    e.style.top = (i < 8 ? 3 : 16) + 'px';
    e.innerHTML = '<i class="dot" style="background:' + stationColors[i] + '"></i>' + s;
    box.appendChild(e);
  });
  document.body.appendChild(box);
}
stationLegend(401, 5);
stationLegend(774, 5);
stationLegend(401, 303);
stationLegend(774, 303);
</script>
</body>
</html>
